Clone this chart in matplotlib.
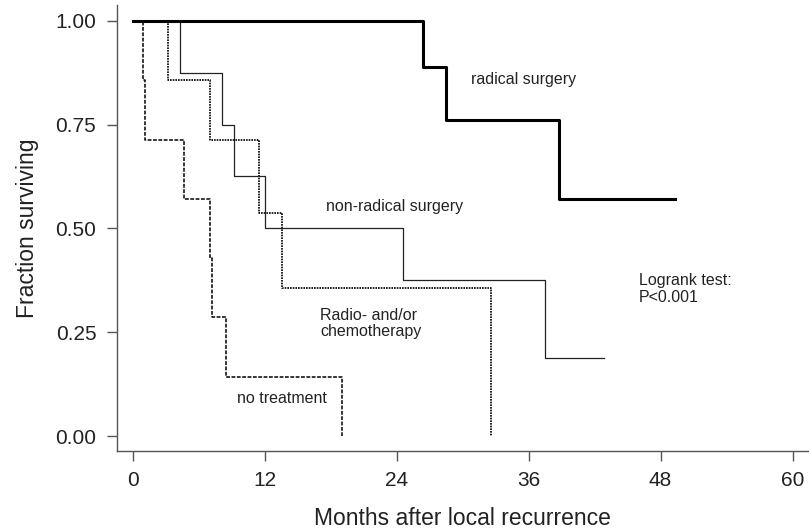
import matplotlib
matplotlib.use("Agg")
import matplotlib.pyplot as plt

plt.rcParams['font.family'] = ['Liberation Sans', 'DejaVu Sans']

# Kaplan-Meier steps (months, fraction surviving)
radical_t = [0, 26.4, 28.5, 38.8, 49.3]
radical_s = [1.0, 0.889, 0.762, 0.571, 0.571]

nonradical_t = [0, 4.3, 8.1, 9.2, 12.0, 24.6, 37.45, 42.9]
nonradical_s = [1.0, 0.875, 0.75, 0.625, 0.5, 0.375, 0.1875, 0.1875]

radio_t = [0, 3.2, 7.06, 11.5, 13.6, 32.6]
radio_s = [1.0, 0.857, 0.714, 0.536, 0.357, 0.0]

notreat_t = [0, 0.9, 1.1, 4.7, 7.0, 7.2, 8.5, 19.0]
notreat_s = [1.0, 0.857, 0.714, 0.571, 0.429, 0.286, 0.143, 0.0]

x_ticks = [0, 12, 24, 36, 48, 60]
y_ticks = [0.0, 0.25, 0.5, 0.75, 1.0]

fig = plt.figure(figsize=(8.09, 5.32), dpi=100)
ax = fig.add_axes([0.1443, 0.1523, 0.8557, 0.8383])

ax.step(notreat_t, notreat_s, where='post', color='black', lw=1.1, linestyle=(0, (2.5, 1)))
ax.step(radio_t, radio_s, where='post', color='black', lw=1.2, linestyle=(0, (1, 0.6)))
ax.step(nonradical_t, nonradical_s, where='post', color='#222222', lw=0.9)
ax.step(radical_t, radical_s, where='post', color='black', lw=2.2)

# labels on the curves
ax.text(30.75, 0.859, "radical surgery", fontsize=11.5, va='center', ha='left', color='#222222')
ax.text(17.57, 0.552, "non-radical surgery", fontsize=11.5, va='center', ha='left', color='#222222')
ax.text(17.03, 0.271, "Radio- and/or\nchemotherapy", fontsize=11.5, va='center', ha='left',
        linespacing=1.1, color='#222222')
ax.text(9.45, 0.091, "no treatment", fontsize=11.5, va='center', ha='left', color='#222222')
ax.text(46.05, 0.354, "Logrank test:\nP<0.001", fontsize=11.5, va='center', ha='left',
        linespacing=1.1, color='#222222')

ax.set_xlim(-1.45, 61.5)
ax.set_ylim(-0.036, 1.038)
ax.set_xticks(x_ticks)
ax.set_yticks(y_ticks)
ax.set_yticklabels([f"{v:.2f}" for v in y_ticks])

ax.spines['top'].set_visible(False)
ax.spines['right'].set_visible(False)
for s in ['left', 'bottom']:
    ax.spines[s].set_color('#555555')
    ax.spines[s].set_linewidth(1.0)

ax.tick_params(axis='both', direction='out', length=7.2, width=1.0, color='#555555',
               labelsize=15, pad=7.5, labelcolor='#222222')

ax.set_xlabel("Months after local recurrence", fontsize=16.5, color='#222222', labelpad=12)
ax.set_ylabel("Fraction surviving", fontsize=16.5, color='#222222', labelpad=12)

fig.savefig("out.png", dpi=100)
